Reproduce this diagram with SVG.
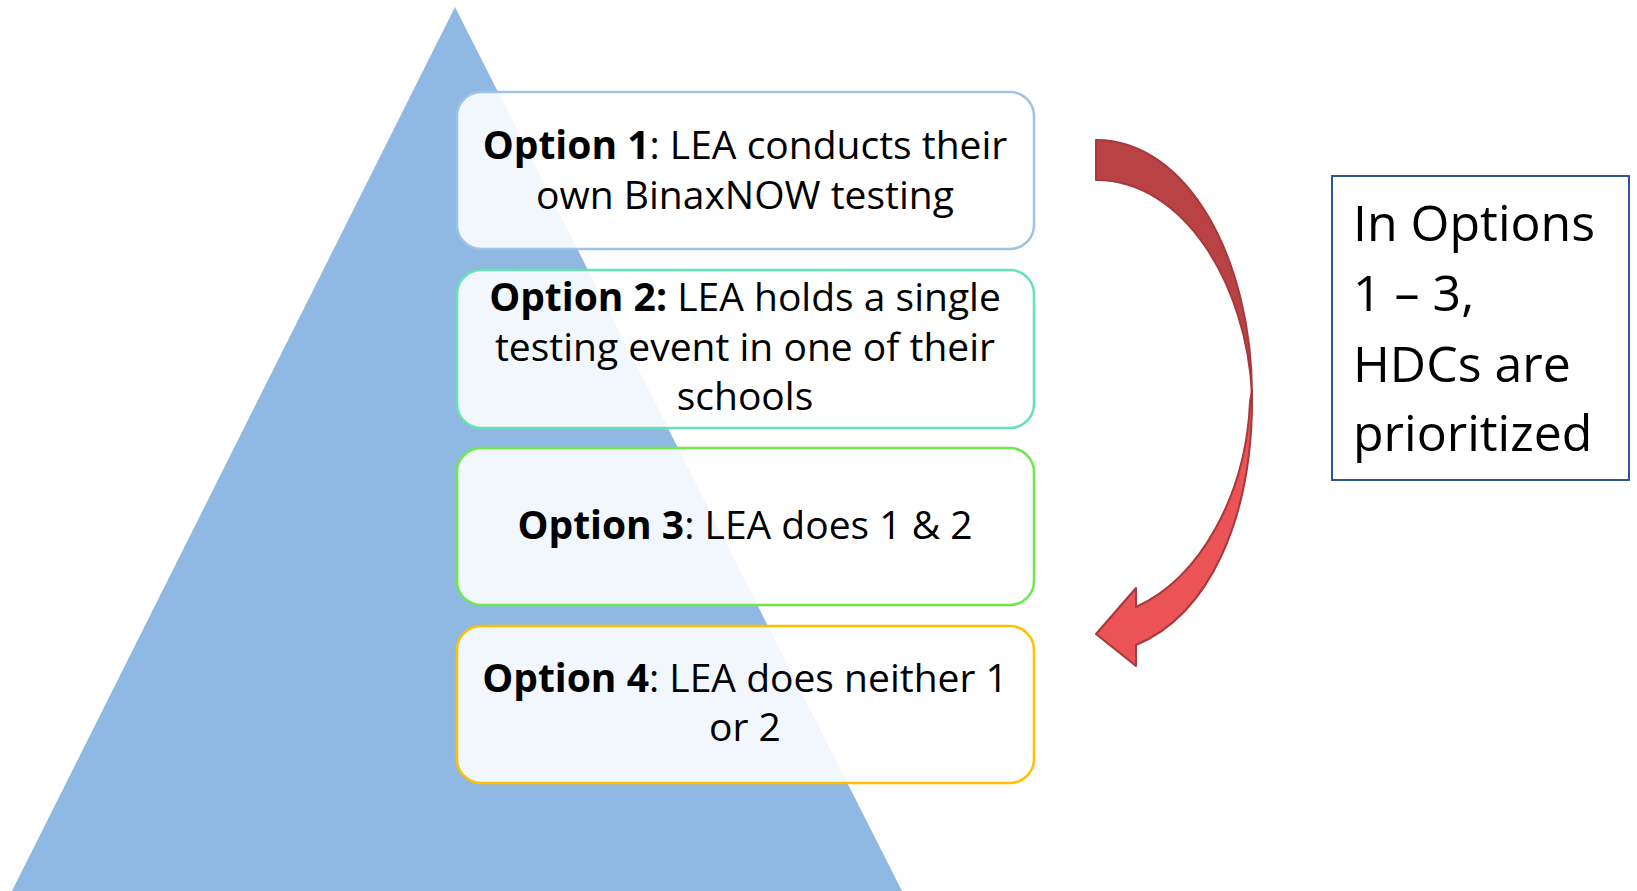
<svg xmlns="http://www.w3.org/2000/svg" width="1637" height="891" viewBox="0 0 1637 891">
<style>
.box{fill:#ffffff;fill-opacity:0.88;stroke-width:2.5}
.t{font-family:"Open Sans","Liberation Sans",sans-serif;font-size:39px;fill:#000;text-anchor:middle}
.b{font-weight:bold}
.r{font-family:"Open Sans","Liberation Sans",sans-serif;font-size:50px;fill:#000}
</style>
<rect width="1637" height="891" fill="#ffffff"/>
<g id="pyramid">
<polygon points="455,7 902,891 12,891" fill="#8FB9E2"/>
</g>
<g id="option1">
<rect class="box" x="457" y="92" width="577" height="157" rx="24" stroke="#9DC3E6"/>
<text class="t" x="745" y="159"><tspan class="b">Option 1</tspan>: LEA conducts their</text>
<text class="t" x="745" y="209">own BinaxNOW testing</text>
</g>
<g id="option2">
<rect class="box" x="457" y="270" width="577" height="158" rx="24" stroke="#66E3B4"/>
<text class="t" x="745" y="311"><tspan class="b">Option 2:</tspan> LEA holds a single</text>
<text class="t" x="745" y="361">testing event in one of their</text>
<text class="t" x="745" y="410">schools</text>
</g>
<g id="option3">
<rect class="box" x="457" y="448" width="577" height="157" rx="24" stroke="#6EE84A"/>
<text class="t" x="745" y="539"><tspan class="b">Option 3</tspan>: LEA does 1 &amp; 2</text>
</g>
<g id="option4">
<rect class="box" x="457" y="626" width="577" height="157" rx="24" stroke="#FFC000"/>
<text class="t" x="745" y="692"><tspan class="b">Option 4</tspan>: LEA does neither 1</text>
<text class="t" x="745" y="741">or 2</text>
</g>
<g id="connectors">
<path d="M1096,140 C1188,140 1252,260 1252,395 C1247,285 1184,180 1096,180 Z" fill="#B94244" stroke="#A8383A" stroke-width="2" stroke-linejoin="round"/>
<path d="M1252,390 C1254,520 1208,615 1136,645 L1136,666 L1096,634 L1136,588 L1136,607 C1200,578 1246,495 1250,402 Z" fill="#EB5356" stroke="#A8383A" stroke-width="2" stroke-linejoin="round"/>
</g>
<g id="note">
<rect x="1332" y="176" width="297" height="304" fill="#ffffff" stroke="#2F5597" stroke-width="2"/>
<text class="r" x="1353" y="241">In Options</text>
<text class="r" x="1353" y="311">1 – 3,</text>
<text class="r" x="1353" y="382">HDCs are</text>
<text class="r" x="1353" y="451">prioritized</text>
</g>
</svg>
